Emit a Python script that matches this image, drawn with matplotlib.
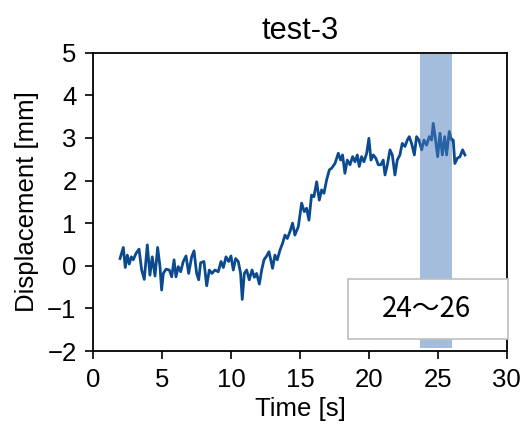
import matplotlib
matplotlib.use("Agg")
import matplotlib.pyplot as plt
from matplotlib.patches import Rectangle

# Measured displacement record
time_s = [
    1.94, 2.18, 2.32, 2.47, 2.61, 2.76, 2.90, 3.10, 3.32, 3.51, 3.70, 3.92, 4.11, 4.28,
    4.48, 4.67, 4.84, 4.96, 5.08, 5.28, 5.52, 5.69, 5.86, 6.00, 6.17, 6.34, 6.53, 6.73,
    6.92, 7.14, 7.31, 7.50, 7.65, 7.79, 8.03, 8.23, 8.42, 8.61, 8.83, 9.07, 9.27, 9.44,
    9.63, 9.82, 9.99, 10.16, 10.33, 10.52, 10.69, 10.81, 10.96, 11.13, 11.32, 11.52,
    11.69, 11.85, 12.05, 12.22, 12.39, 12.58, 12.75, 13.01, 13.18, 13.35, 13.55, 13.74,
    13.91, 14.08, 14.27, 14.46, 14.63, 14.88, 15.12, 15.31, 15.48, 15.65, 15.84, 16.01,
    16.21, 16.40, 16.57, 16.74, 16.93, 17.13, 17.30, 17.54, 17.78, 17.95, 18.09, 18.26,
    18.43, 18.63, 18.82, 18.99, 19.16, 19.30, 19.47, 19.64, 19.84, 20.00, 20.15, 20.32,
    20.51, 20.68, 20.87, 21.04, 21.17, 21.34, 21.53, 21.70, 21.89, 22.06, 22.25, 22.42,
    22.62, 22.79, 22.93, 23.10, 23.30, 23.46, 23.63, 23.83, 24.00, 24.19, 24.38, 24.55,
    24.67, 24.84, 24.99, 25.16, 25.33, 25.50, 25.64, 25.83, 26.00, 26.12, 26.24, 26.41,
    26.61, 26.80, 26.97,
]
displacement_mm = [
    0.17, 0.43, -0.04, 0.25, 0.04, 0.21, 0.14, 0.29, 0.39, -0.10, -0.32, 0.49, -0.22, 0.21,
    -0.24, 0.43, -0.02, -0.57, -0.18, -0.08, -0.10, -0.26, 0.14, -0.26, -0.02, -0.14, 0.10, 0.23,
    -0.18, 0.21, 0.35, -0.18, -0.33, 0.07, 0.10, -0.47, -0.10, -0.18, -0.10, -0.14, 0.10, -0.04,
    0.21, 0.10, 0.23, -0.10, 0.17, 0.10, -0.18, -0.79, -0.18, -0.10, -0.33, -0.10,
    -0.27, -0.18, -0.43, -0.10, 0.14, 0.23, 0.33, -0.06, 0.25, 0.14, 0.37, 0.53,
    0.72, 0.64, 0.80, 1.00, 0.72, 0.92, 1.47, 1.27, 1.35, 1.07, 1.66, 1.62,
    1.97, 1.54, 1.78, 1.70, 2.01, 2.25, 2.29, 2.40, 2.64, 2.48, 2.60, 2.17,
    2.48, 2.37, 2.56, 2.44, 2.60, 2.33, 2.56, 2.44, 2.64, 2.99, 2.48, 2.60,
    2.52, 2.37, 2.37, 2.48, 2.13, 2.37, 2.72, 2.60, 2.13, 2.48, 2.60, 2.87,
    2.80, 2.95, 3.03, 2.87, 2.60, 3.03, 2.95, 2.72, 2.95, 2.83, 3.03, 2.95,
    3.34, 2.95, 2.56, 3.11, 2.60, 3.03, 2.60, 3.15, 2.95, 2.95, 2.40, 2.52,
    2.56, 2.72, 2.60,
]

# Highlighted time window and its label
window_start = 23.7
window_end = 26.05
window_label = "24〜26"

x_ticks = [0, 5, 10, 15, 20, 25, 30]
y_ticks = [-2, -1, 0, 1, 2, 3, 4, 5]

plt.rcParams["font.family"] = ["Liberation Sans", "DejaVu Sans"]
plt.rcParams["font.size"] = 18.5

fig = plt.figure(figsize=(5.2, 4.25), dpi=100)
ax = fig.add_axes([0.1794, 0.1741, 0.795, 0.702])

ax.plot(time_s, displacement_mm, color="#0b4a8e", linewidth=2.0,
        solid_joinstyle="round", zorder=2)
ax.axvspan(window_start, window_end, ymin=0.01, ymax=0.997,
           color="#4a7cba", alpha=0.5, linewidth=0, zorder=3)

ax.set_xlim(0, 30)
ax.set_ylim(-2, 5)
ax.set_xticks(x_ticks)
ax.set_yticks(y_ticks)
ax.set_xticklabels([str(v) for v in x_ticks])
ax.set_yticklabels([str(v).replace("-", "\u2212") for v in y_ticks])
ax.tick_params(direction="out", length=6, width=1.2, pad=6)
for sp in ax.spines.values():
    sp.set_linewidth(1.3)

ax.set_xlabel("Time [s]", labelpad=4)
ax.set_ylabel("Displacement [mm]", labelpad=6)
ax.set_title("test-3", pad=10)

box = Rectangle((0.617, 0.040), 0.385, 0.201, transform=ax.transAxes,
                facecolor="white", edgecolor="#bfbfbf", linewidth=1.2,
                zorder=5, clip_on=False)
ax.add_patch(box)
ax.text(0.805, 0.14, window_label, transform=ax.transAxes, ha="center", va="center",
        fontsize=20, family=["Noto Sans CJK JP", "DejaVu Sans"], zorder=6)

fig.savefig("out.png", dpi=100)
